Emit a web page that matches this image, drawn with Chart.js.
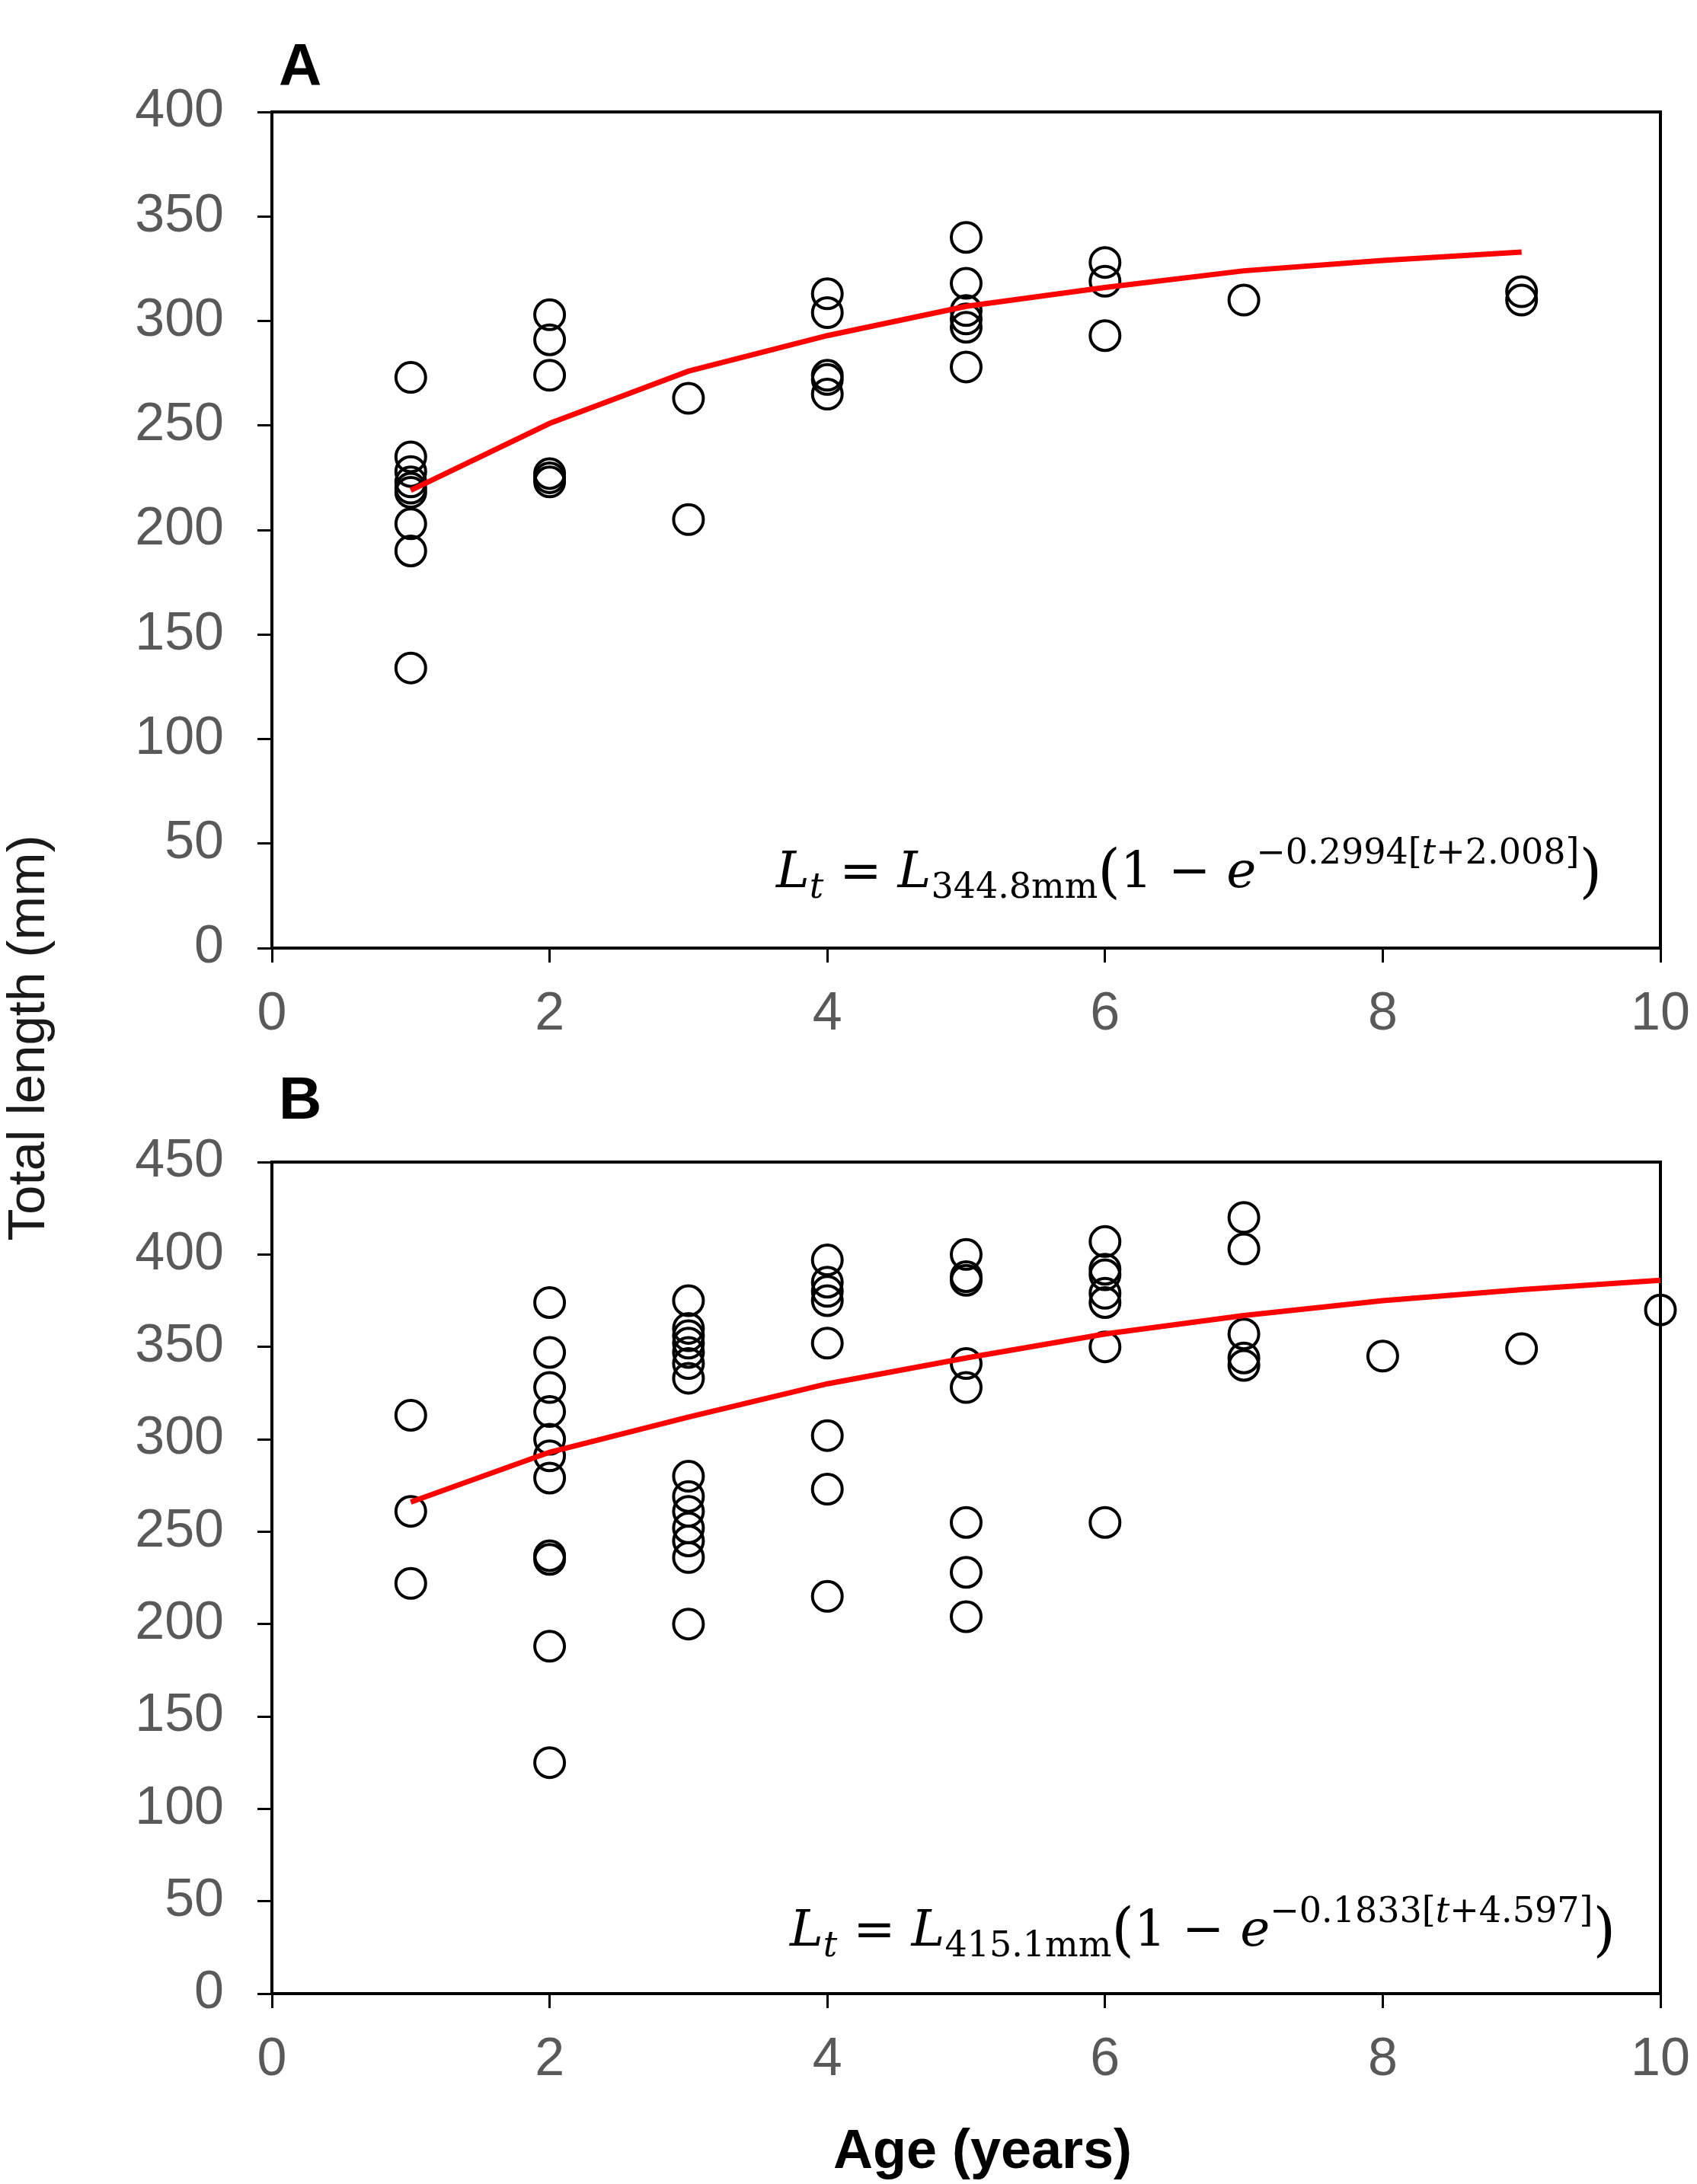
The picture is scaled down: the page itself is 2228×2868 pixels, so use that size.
<!DOCTYPE html>
<html>
<head>
<meta charset="utf-8">
<script src="https://cdn.jsdelivr.net/npm/chart.js@4.4.1/dist/chart.umd.min.js"></script>
<style>
  html, body { margin: 0; padding: 0; background: #fff; }
  #wadah { position: relative; width: 2228px; height: 2868px; }
  canvas { position: absolute; left: 0; top: 0; }
</style>
</head>
<body>
<div id="wadah">
  <canvas id="grafik_a" width="2228" height="2868"></canvas>
  <canvas id="grafik_b" width="2228" height="2868"></canvas>
</div>
<script>
// Data panel A (umur dan panjang total tiap ikan)
var umur_a = [1, 1, 1, 1, 1, 1, 1, 1, 1,
  2, 2, 2, 2, 2, 2,
  3, 3,
  4, 4, 4, 4, 4,
  5, 5, 5, 5, 5, 5,
  6, 6, 6,
  7,
  9, 9];
var panjang_a = [273, 235, 228, 223, 220, 218, 203, 190, 134,
  303, 291, 274, 227, 225, 223,
  263, 205,
  313, 304, 274, 272, 265,
  340, 318, 305, 301, 297, 278,
  328, 319, 293,
  310,
  314, 310];

// Kurva von Bertalanffy panel A
var umur_kurva_a = [1, 2, 3, 4, 5, 6, 7, 8, 9];
var panjang_kurva_a = [219, 251, 276, 293, 307, 316, 324, 329, 333];

// Data panel B
var umur_b = [1, 1, 1,
  2, 2, 2, 2, 2, 2, 2, 2, 2, 2, 2,
  3, 3, 3, 3, 3, 3, 3, 3, 3, 3, 3, 3, 3, 3,
  4, 4, 4, 4, 4, 4, 4, 4,
  5, 5, 5, 5, 5, 5, 5, 5,
  6, 6, 6, 6, 6, 6, 6,
  7, 7, 7, 7, 7,
  8, 9, 10];
var panjang_b = [313, 261, 222,
  374, 347, 328, 315, 300, 291, 279, 237, 235, 188, 125,
  375, 360, 356, 352, 347, 341, 333, 280, 269, 261, 252, 245, 236, 200,
  397, 385, 380, 375, 352, 302, 273, 215,
  400, 388, 386, 341, 328, 255, 228, 204,
  407, 392, 389, 379, 374, 350, 255,
  420, 403, 357, 344, 340,
  345, 349, 370];

var umur_kurva_b = [1, 2, 3, 4, 5, 6, 7, 8, 9, 10];
var panjang_kurva_b = [266, 293, 312, 330, 344, 357, 367, 375, 381, 386];

// Parameter di persamaan
var linf_a = "344.8mm", k_a = "0.2994", t0_a = "2.008";
var linf_b = "415.1mm", k_b = "0.1833", t0_b = "4.597";

var judul_y = "Total length (mm)";
var judul_x = "Age (years)";

function gabung(xs, ys) {
  return xs.map(function (x, i) { return { x: x, y: ys[i] }; });
}

// Menulis persamaan bagian per bagian (subskrip / superskrip)
function tulisRumus(ctx, x, y, linf, k, t0) {
  var besar = "66px 'DejaVu Serif'";
  var kecil = "46px 'DejaVu Serif'";
  var kurung = "76px 'DejaVu Serif'";
  var bagian = [
    { t: "L", f: "italic " + besar, dy: 0 },
    { t: "t", f: "italic " + kecil, dy: 14 },
    { t: " = ", f: besar, dy: 0 },
    { t: "L", f: "italic " + besar, dy: 0 },
    { t: linf, f: kecil, dy: 14 },
    { t: "(", f: kurung, dy: 5 },
    { t: "1 \u2212 ", f: besar, dy: 0 },
    { t: "e", f: "italic " + besar, dy: 0 },
    { t: "\u2212" + k + "[", f: kecil, dy: -31 },
    { t: "t", f: "italic " + kecil, dy: -31 },
    { t: "+" + t0 + "]", f: kecil, dy: -31 },
    { t: ")", f: kurung, dy: 5 }
  ];
  ctx.fillStyle = "#000";
  ctx.textAlign = "left";
  ctx.textBaseline = "alphabetic";
  bagian.forEach(function (b) {
    ctx.font = b.f;
    ctx.fillText(b.t, x, y + b.dy);
    x += ctx.measureText(b.t).width;
  });
}

function skala(maksY) {
  return {
    x: {
      type: "linear",
      min: 0,
      max: 10,
      ticks: {
        stepSize: 2,
        color: "#595959",
        font: { family: "Liberation Sans", size: 70 },
        padding: 27,
        maxRotation: 0
      },
      grid: { drawOnChartArea: false, drawTicks: true, tickLength: 19, tickColor: "#000", tickWidth: 3 },
      border: { display: false },
      afterFit: function (s) {
        s.height = 130;
        s.paddingLeft = 0;
        s.paddingRight = 0;
      }
    },
    y: {
      type: "linear",
      min: 0,
      max: maksY,
      ticks: {
        stepSize: 50,
        color: "#595959",
        font: { family: "Liberation Sans", size: 70 },
        padding: 44
      },
      grid: { drawOnChartArea: false, drawTicks: true, tickLength: 19, tickColor: "#000", tickWidth: 3 },
      border: { display: false },
      afterFit: function (s) { s.width = 357; }
    }
  };
}

function dataset(titik, kurva) {
  return [
    {
      type: "line",
      data: kurva,
      borderColor: "#ff0000",
      borderWidth: 7,
      pointRadius: 0,
      tension: 0,
      fill: false
    },
    {
      type: "scatter",
      data: titik,
      pointStyle: "circle",
      pointRadius: 19.5,
      pointBorderWidth: 4,
      pointBorderColor: "#000",
      pointBackgroundColor: "rgba(0,0,0,0)",
      clip: false
    }
  ];
}

// Bingkai kotak dan teks tambahan
function pluginPanel(huruf, barisHuruf, rumus, judulSumbu) {
  return {
    id: "panel_" + huruf,
    beforeDatasetsDraw: function (chart) {
      var a = chart.chartArea;
      var ctx = chart.ctx;
      ctx.save();
      ctx.strokeStyle = "#000";
      ctx.lineWidth = 4;
      ctx.strokeRect(a.left, a.top, a.right - a.left, a.bottom - a.top);
      ctx.restore();
    },
    afterDraw: function (chart) {
      var ctx = chart.ctx;
      ctx.save();
      ctx.fillStyle = "#000";
      ctx.font = "bold 78px 'Liberation Sans'";
      ctx.textAlign = "left";
      ctx.textBaseline = "alphabetic";
      ctx.fillText(huruf, 366, barisHuruf);
      tulisRumus(ctx, rumus.x, rumus.y, rumus.linf, rumus.k, rumus.t0);
      if (judulSumbu) {
        ctx.fillStyle = "#1a1a1a";
        ctx.font = "69px 'Liberation Sans'";
        ctx.textAlign = "center";
        ctx.save();
        ctx.translate(58, 1363);
        ctx.rotate(-Math.PI / 2);
        ctx.fillText(judul_y, 0, 0);
        ctx.restore();
        ctx.fillStyle = "#000";
        ctx.font = "bold 72px 'Liberation Sans'";
        ctx.fillText(judul_x, 1290, 2847);
      }
      ctx.restore();
    }
  };
}

var grafik_a = new Chart(document.getElementById("grafik_a").getContext("2d"), {
  type: "scatter",
  data: { datasets: dataset(gabung(umur_a, panjang_a), gabung(umur_kurva_a, panjang_kurva_a)) },
  options: {
    responsive: false,
    devicePixelRatio: 1,
    animation: false,
    events: [],
    layout: { padding: { left: 0, top: 147, right: 48, bottom: 1493 } },
    plugins: { legend: { display: false }, tooltip: { enabled: false } },
    scales: skala(400)
  },
  plugins: [pluginPanel("A", 112, { x: 1019, y: 1165, linf: linf_a, k: k_a, t0: t0_a }, false)]
});

var grafik_b = new Chart(document.getElementById("grafik_b").getContext("2d"), {
  type: "scatter",
  data: { datasets: dataset(gabung(umur_b, panjang_b), gabung(umur_kurva_b, panjang_kurva_b)) },
  options: {
    responsive: false,
    devicePixelRatio: 1,
    animation: false,
    events: [],
    layout: { padding: { left: 0, top: 1526, right: 48, bottom: 120 } },
    plugins: { legend: { display: false }, tooltip: { enabled: false } },
    scales: skala(450)
  },
  plugins: [pluginPanel("B", 1469, { x: 1037, y: 2555, linf: linf_b, k: k_b, t0: t0_b }, true)]
});
</script>
</body>
</html>
